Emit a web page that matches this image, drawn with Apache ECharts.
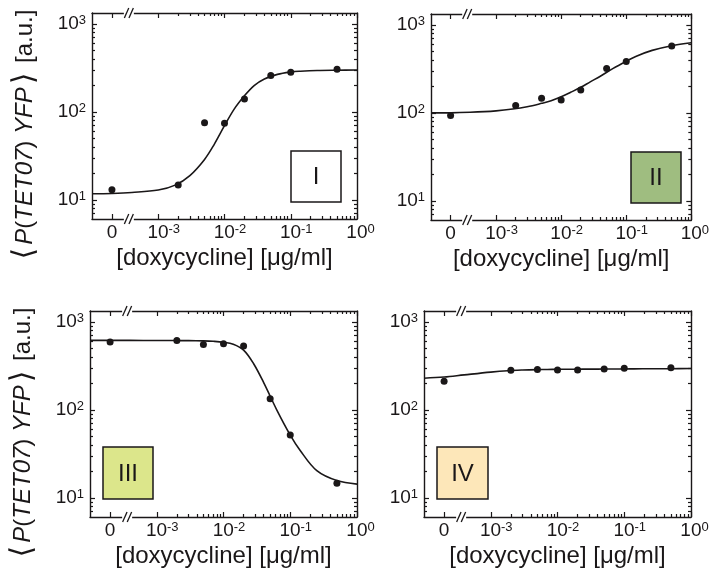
<!DOCTYPE html>
<html lang="en">
<head>
<meta charset="UTF-8">
<title>P(TET07) YFP vs doxycycline</title>
<script src="https://cdn.jsdelivr.net/npm/echarts@6.0.0/dist/echarts.min.js"></script>
<style>
    html, body { margin: 0; padding: 0; background: #fff; }
    #main { width: 712px; height: 578px; }
</style>
</head>
<body>
<div id="main"></div>
<script>
// measured points, doxycycline [ug/ml] vs mean YFP [a.u.]
var doseX  = [0, 0.002, 0.005, 0.01, 0.02, 0.05, 0.1, 0.5];
var yfpI   = [13.1, 14.8, 75.7, 74.5, 141, 260, 284, 307];
var yfpII  = [93.8, 121.6, 147, 141, 183, 320, 384, 578];
var yfpIII = [592, 618, 557, 566, 533, 134, 52, 14.7];
var yfpIV  = [213, 284, 289, 286, 286, 292, 299, 302];

// fitted curves
var fitX   = [0.0001, 0.0002, 0.0004, 0.001, 0.0018, 0.003, 0.005, 0.007, 0.01, 0.014, 0.02, 0.028, 0.04, 0.063, 0.1, 0.14, 0.25, 0.5, 1];
var fitI   = [11.8, 11.9, 12.2, 13.0, 14.8, 19, 29, 43, 70, 108, 153, 200, 238, 268, 285, 291, 297, 299, 300];
var fitII  = [100.5, 100.6, 102, 106, 111, 118, 129, 138, 153, 172, 196, 226, 262, 322, 388, 440, 515, 582, 630];
var fitIII = [618, 618, 618, 617, 616, 614, 610, 604, 590, 560, 480, 340, 205, 100, 52, 35, 20.5, 15.8, 14.4];
var fitIV  = [230, 237, 251, 270, 280, 285, 288, 289, 290, 291, 291, 292, 292, 293, 293, 294, 295, 295, 296];

// ticks
var xTicks = [0, 0.001, 0.01, 0.1, 1];
var xMinor = [0.002, 0.003, 0.004, 0.005, 0.006, 0.007, 0.008, 0.009,
              0.02, 0.03, 0.04, 0.05, 0.06, 0.07, 0.08, 0.09,
              0.2, 0.3, 0.4, 0.5, 0.6, 0.7, 0.8, 0.9];
var yTicks = [10, 100, 1000];
var yMinor = [7, 8, 9, 20, 30, 40, 50, 60, 70, 80, 90, 200, 300, 400, 500, 600, 700, 800, 900];

var panelLabels = ['I', 'II', 'III', 'IV'];

// layout
var ink = '#1a1718';
var font = 'Liberation Sans';
var zeroPos = 0.0002;     // where the "0" dose sits on the broken log axis
var breakPos = 0.00036;   // the // mark
var grids = [
    {left: 92, top: 13, width: 265, height: 206},
    {left: 431, top: 14, width: 267, height: 206},
    {left: 90, top: 311, width: 267, height: 206},
    {left: 424, top: 311, width: 267, height: 206}
];
var boxes = [
    {x: 291, y: 151, w: 50, h: 51, fill: '#ffffff'},
    {x: 631, y: 152, w: 50, h: 51, fill: '#9fbd80'},
    {x: 103, y: 447, w: 50, h: 52, fill: '#dce68b'},
    {x: 437, y: 447, w: 51, h: 52, fill: '#fde7b9'}
];
var yMin = 6.1, yMax = 1334;

function px(x) { return x === 0 ? zeroPos : x; }

var richTick = {
    b: {fontSize: 19, fontFamily: font, color: ink},
    s: {fontSize: 13, fontFamily: font, color: ink, verticalAlign: 'top', padding: [0, 0, 7, 0]},
    p1: {width: 7},
    p2: {width: 11}
};

function powLabel(v, isX) {
    if (isX && v < 0.0005) return '{b|0}';
    var e = String(Math.round(Math.log(v) / Math.LN10));
    return (isX ? '{p' + e.length + '|}' : '') + '{b|10}{s|' + e + '}';
}

function xAxes(g) {
    var list = [];
    ['bottom', 'top'].forEach(function (pos) {
        [true, false].forEach(function (major) {
            var ax = {
                type: 'log', gridIndex: g, position: pos, min: 0.0001, max: 1,
                splitLine: {show: false},
                axisLine: {show: major, onZero: false, lineStyle: {color: ink, width: 1.4}},
                axisTick: {inside: true, length: major ? 5 : 3,
                    customValues: (major ? xTicks : xMinor).map(px),
                    lineStyle: {color: ink, width: 1.2}},
                axisLabel: {show: false}
            };
            if (major && pos === 'bottom') {
                ax.axisLabel = {show: true, customValues: xTicks.map(px), margin: 4,
                    formatter: function (v) { return powLabel(v, true); }, rich: richTick};
                ax.name = '[doxycycline] [\u03bcg/ml]';
                ax.nameLocation = 'middle';
                ax.nameGap = 27;
                ax.nameTextStyle = {fontSize: 24, fontFamily: font, color: ink};
            }
            list.push(ax);
        });
    });
    return list;
}

function yAxes(g) {
    var list = [];
    ['left', 'right'].forEach(function (pos) {
        [true, false].forEach(function (major) {
            var ax = {
                type: 'log', gridIndex: g, position: pos, min: yMin, max: yMax,
                splitLine: {show: false},
                axisLine: {show: major, onZero: false, lineStyle: {color: ink, width: 1.4}},
                axisTick: {show: true, inside: true, length: major ? 5 : 3,
                    customValues: major ? yTicks : yMinor,
                    lineStyle: {color: ink, width: 1.2}},
                axisLabel: {show: false}
            };
            if (major && pos === 'left') {
                ax.axisLabel = {show: true, customValues: yTicks, margin: 6,
                    formatter: function (v) { return powLabel(v, false); }, rich: richTick};
                if (g % 2 === 0) {
                    ax.name = '{a|\u27e8}{i|P}({i|TET07}) {i|YFP}{a|\u27e9} [a.u.]';
                    ax.nameLocation = 'middle';
                    ax.nameRotate = 90;
                    ax.nameGap = 52;
                    ax.nameTextStyle = {fontSize: 24, fontFamily: font, color: ink,
                        padding: [0, 40, 0, 0],
                        rich: {
                            i: {fontSize: 24, fontFamily: font, fontStyle: 'italic', color: ink},
                            a: {fontSize: 30, fontFamily: 'DejaVu Sans', color: ink, padding: [0, 3, 0, 3]}
                        }};
                }
            }
            list.push(ax);
        });
    });
    return list;
}

var xAxis = [], yAxis = [], series = [];
var points = [yfpI, yfpII, yfpIII, yfpIV];
var fits = [fitI, fitII, fitIII, fitIV];

grids.forEach(function (gr, g) {
    xAxis = xAxis.concat(xAxes(g));
    yAxis = yAxis.concat(yAxes(g));
    var ai = g * 4;
    series.push({
        type: 'line', xAxisIndex: ai, yAxisIndex: ai, smooth: 0.35,
        showSymbol: false, silent: true,
        lineStyle: {color: ink, width: 1.6},
        data: fitX.map(function (x, i) { return [x, fits[g][i]]; })
    });
    series.push({
        type: 'scatter', xAxisIndex: ai, yAxisIndex: ai, symbolSize: 7,
        itemStyle: {color: ink, opacity: 1}, z: 3,
        data: doseX.map(function (x, i) { return [px(x), points[g][i]]; })
    });
    series.push({
        type: 'custom', xAxisIndex: ai, yAxisIndex: ai, silent: true, z: 5,
        data: [[breakPos, 100]],
        renderItem: function (params, api) {
            var cs = params.coordSys;
            var x = api.coord([api.value(0), api.value(1)])[0];
            var kids = [];
            [cs.y + cs.height, cs.y].forEach(function (yy) {
                kids.push({type: 'rect', shape: {x: x - 5, y: yy - 2, width: 10, height: 4}, style: {fill: '#fff'}});
                [-2.3, 2.3].forEach(function (dx) {
                    kids.push({type: 'line', shape: {x1: x + dx - 2.2, y1: yy + 5, x2: x + dx + 2.2, y2: yy - 5},
                        style: {stroke: ink, lineWidth: 1.3}});
                });
            });
            return {type: 'group', children: kids};
        }
    });
});

var graphic = boxes.map(function (b, i) {
    return {
        type: 'group', z: 10,
        children: [
            {type: 'rect', shape: {x: b.x, y: b.y, width: b.w, height: b.h},
                style: {fill: b.fill, stroke: ink, lineWidth: 1.5}},
            {type: 'text', style: {text: panelLabels[i], x: b.x + b.w / 2, y: b.y + b.h / 2 + 1,
                textAlign: 'center', textVerticalAlign: 'middle',
                font: '24px "' + font + '"', fill: ink}}
        ]
    };
});

var myChart = echarts.init(document.getElementById('main'));
myChart.setOption({
    animation: false,
    backgroundColor: '#fff',
    textStyle: {fontFamily: font},
    grid: grids,
    xAxis: xAxis,
    yAxis: yAxis,
    series: series,
    graphic: graphic
});
</script>
</body>
</html>
